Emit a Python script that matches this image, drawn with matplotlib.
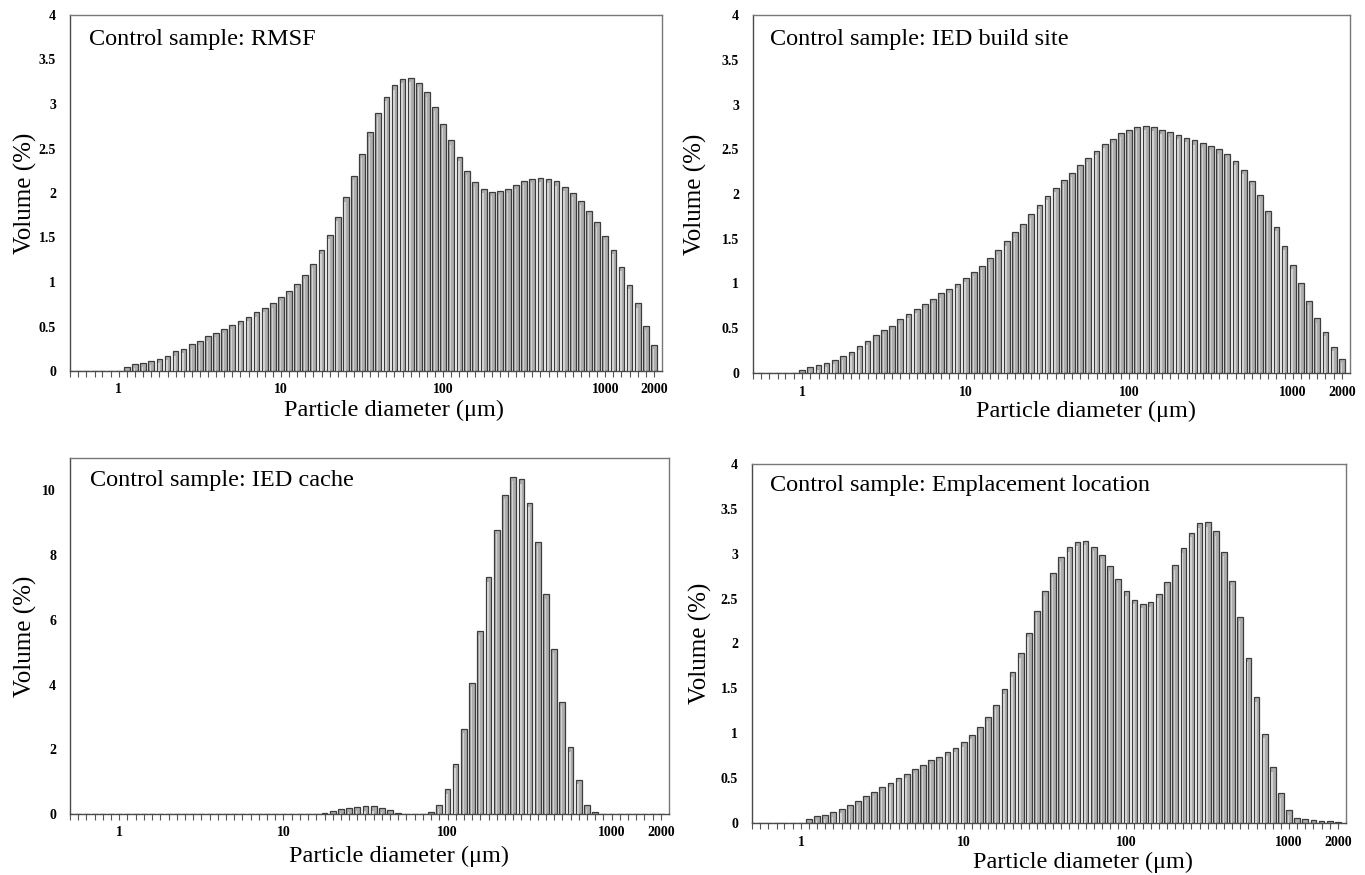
import numpy as np
import matplotlib
matplotlib.use('Agg')
import matplotlib.pyplot as plt

plt.rcParams['font.family'] = ['Liberation Serif', 'DejaVu Serif']

# Channel sizes of the particle sizer (um), 20 channels per decade
diameters = [
    0.50, 0.56, 0.63, 0.71, 0.79, 0.89,
    1.00, 1.12, 1.26, 1.41, 1.58, 1.78, 2.00, 2.24, 2.51, 2.82,
    3.16, 3.55, 3.98, 4.47, 5.01, 5.62, 6.31, 7.08, 7.94, 8.91,
    10.0, 11.2, 12.6, 14.1, 15.8, 17.8, 20.0, 22.4, 25.1, 28.2,
    31.6, 35.5, 39.8, 44.7, 50.1, 56.2, 63.1, 70.8, 79.4, 89.1,
    100, 112, 126, 141, 158, 178, 200, 224, 251, 282,
    316, 355, 398, 447, 501, 562, 631, 708, 794, 891,
    1000, 1122, 1259, 1413, 1585, 1778, 1995,
]

# Volume (%) per channel
rmsf = [
    0, 0, 0, 0, 0, 0, 0,
    0.04, 0.08, 0.09, 0.11, 0.14, 0.17, 0.22, 0.25, 0.30, 0.34,
    0.39, 0.43, 0.47, 0.52, 0.56, 0.61, 0.66, 0.71, 0.76, 0.83,
    0.90, 0.98, 1.08, 1.20, 1.36, 1.53, 1.73, 1.95, 2.19, 2.44,
    2.68, 2.90, 3.08, 3.21, 3.28, 3.29, 3.24, 3.13, 2.97, 2.78,
    2.59, 2.41, 2.25, 2.12, 2.05, 2.01, 2.02, 2.05, 2.09, 2.14,
    2.16, 2.17, 2.16, 2.13, 2.07, 2.00, 1.91, 1.80, 1.67, 1.52,
    1.36, 1.17, 0.97, 0.76, 0.51, 0.29,
]

build_site = [
    0, 0, 0, 0, 0, 0, 0.03,
    0.07, 0.085, 0.11, 0.15, 0.19, 0.24, 0.30, 0.36, 0.42, 0.48,
    0.53, 0.60, 0.66, 0.72, 0.77, 0.83, 0.89, 0.94, 1.00, 1.06,
    1.13, 1.20, 1.29, 1.37, 1.47, 1.57, 1.67, 1.78, 1.88, 1.98,
    2.07, 2.16, 2.24, 2.32, 2.40, 2.48, 2.56, 2.62, 2.68, 2.72,
    2.75, 2.76, 2.75, 2.72, 2.69, 2.66, 2.63, 2.60, 2.57, 2.54,
    2.50, 2.45, 2.37, 2.27, 2.15, 1.99, 1.81, 1.63, 1.42, 1.21,
    1.01, 0.81, 0.61, 0.46, 0.29, 0.16,
]

cache = [
    0, 0, 0, 0, 0, 0, 0,
    0, 0, 0, 0, 0, 0, 0, 0, 0, 0,
    0, 0, 0, 0, 0, 0, 0, 0, 0, 0,
    0, 0, 0, 0.01, 0.03, 0.10, 0.15, 0.20, 0.21, 0.24,
    0.24, 0.20, 0.12, 0.03, 0, 0, 0, 0.05, 0.28, 0.76,
    1.55, 2.64, 4.06, 5.65, 7.31, 8.77, 9.85, 10.41, 10.34, 9.62,
    8.41, 6.79, 5.11, 3.46, 2.06, 1.05, 0.28, 0.05, 0, 0,
    0, 0, 0, 0, 0, 0,
]

emplacement = [
    0, 0, 0, 0, 0, 0, 0,
    0.04, 0.08, 0.09, 0.12, 0.16, 0.20, 0.25, 0.30, 0.35, 0.40,
    0.45, 0.50, 0.55, 0.60, 0.65, 0.70, 0.74, 0.79, 0.84, 0.90,
    0.98, 1.07, 1.18, 1.32, 1.49, 1.68, 1.89, 2.12, 2.36, 2.58,
    2.79, 2.96, 3.07, 3.13, 3.14, 3.08, 2.99, 2.86, 2.72, 2.58,
    2.49, 2.44, 2.46, 2.55, 2.69, 2.87, 3.06, 3.23, 3.34, 3.35,
    3.25, 3.02, 2.70, 2.30, 1.84, 1.40, 0.99, 0.62, 0.33, 0.14,
    0.06, 0.04, 0.03, 0.02, 0.02, 0.01,
]

titles = [
    'Control sample: RMSF',
    'Control sample: IED build site',
    'Control sample: IED cache',
    'Control sample: Emplacement location',
]
series = [rmsf, build_site, cache, emplacement]

x_ticks = [1, 10, 100, 1000, 1995]
x_ticklabels = ['1', '10', '100', '1000', '2000']
y_ticks_small = [0, 0.5, 1, 1.5, 2, 2.5, 3, 3.5, 4]
y_ticklabels_small = ['0', '0.5', '1', '1.5', '2', '2.5', '3', '3.5', '4']
y_ticks_cache = [0, 2, 4, 6, 8, 10]
y_ticklabels_cache = ['0', '2', '4', '6', '8', '10']

# panel rectangles in figure pixels: left, top, right, bottom
W, H = 1365, 875
panel_px = [
    (70, 15, 662, 371),
    (753, 15, 1350, 373),
    (70, 458, 669, 814),
    (752, 464, 1346, 823),
]
ylabel_x = [-0.076, -0.097, -0.075, -0.087]
xlabel_xy = [(0.548, -0.112), (0.557, -0.108), (0.55, -0.12), (0.557, -0.109)]
title_xy = [(0.032, 0.96), (0.028, 0.96), (0.034, 0.967), (0.03, 0.97)]

log_step = 1 / 20  # decade fraction of one channel
bar_frac = 0.70

fig = plt.figure(figsize=(W / 100, H / 100), dpi=100)

d = np.array(diameters)
left = d * 10 ** (-bar_frac / 2 * log_step)
right = d * 10 ** (bar_frac / 2 * log_step)
hl_left = d * 10 ** (-bar_frac / 2 * log_step * 0.45)
hl_right = d * 10 ** (bar_frac / 2 * log_step * 0.05)

for i, vals in enumerate(series):
    l, t, r, b = panel_px[i]
    ax = fig.add_axes([l / W, 1 - b / H, (r - l) / W, (b - t) / H])
    v = np.array(vals)
    ytop = 11 if i == 2 else 4

    # bars with a lighter stripe to mimic the shaded look
    ax.bar(left, v, width=right - left, align='edge', color='#adadad',
           edgecolor='#3c3c3c', linewidth=0.9, zorder=2)
    ax.bar(hl_left, np.clip(v - 0.012 * ytop, 0, None),
           width=hl_right - hl_left, align='edge', color='#d2d2d2',
           linewidth=0, zorder=3)

    ax.set_xscale('log')
    ax.set_xlim(d[0], d[-1] * 10 ** (log_step))
    ax.set_xticks(x_ticks)
    ax.set_xticklabels(x_ticklabels, fontweight='bold', fontsize=10)
    ax.set_xticks(d, minor=True)
    ax.xaxis.set_minor_formatter(plt.NullFormatter())
    ax.tick_params(axis='x', which='both', direction='out', length=4,
                   width=0.8, color='#555555', pad=5)

    ax.set_ylim(0, ytop)
    if i == 2:
        ax.set_yticks(y_ticks_cache)
        ax.set_yticklabels(y_ticklabels_cache, fontweight='bold', fontsize=10)
    else:
        ax.set_yticks(y_ticks_small)
        ax.set_yticklabels(y_ticklabels_small, fontweight='bold', fontsize=10)
    ax.tick_params(axis='y', direction='out', length=0, pad=10)

    for side in ['left', 'bottom']:
        ax.spines[side].set_color('#4a4a4a')
        ax.spines[side].set_linewidth(1.0)
    for side in ['top', 'right']:
        ax.spines[side].set_color('#777777')
        ax.spines[side].set_linewidth(1.0)

    ax.set_ylabel('Volume (%)', fontsize=18, va='center')
    ax.yaxis.set_label_coords(ylabel_x[i], 0.5)
    ax.set_xlabel('Particle diameter (μm)', fontsize=17.5, va='center')
    ax.xaxis.set_label_coords(*xlabel_xy[i])

    tx, ty = title_xy[i]
    ax.text(tx, ty, titles[i], transform=ax.transAxes, fontsize=17.5,
            ha='left', va='top')

fig.savefig('out.png', dpi=100)
